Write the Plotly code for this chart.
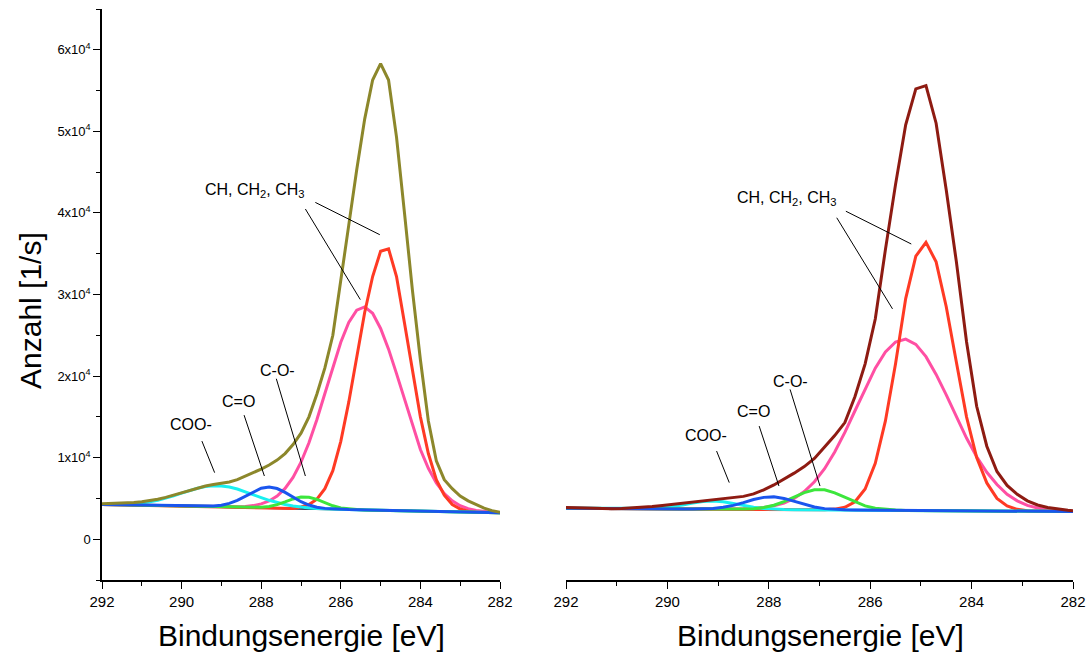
import plotly.graph_objects as go

# ---------------- data ----------------
# Left panel: energy grid (eV) and counts (1/s)
E_LEFT = [292.0, 291.8, 291.6, 291.4, 291.2, 291.0, 290.8, 290.6, 290.4, 290.2,
          290.0, 289.8, 289.6, 289.4, 289.2, 289.0, 288.8, 288.6, 288.4, 288.2,
          288.0, 287.8, 287.6, 287.4, 287.2, 287.0, 286.8, 286.6, 286.4, 286.2,
          286.0, 285.8, 285.6, 285.4, 285.2, 285.0, 284.8, 284.6, 284.4, 284.2,
          284.0, 283.8, 283.6, 283.4, 283.2, 283.0, 282.8, 282.6, 282.4, 282.2, 282.0]

ENVELOPE_LEFT = [4350, 4370, 4400, 4440, 4500, 4590, 4720, 4900, 5130, 5400,
                 5700, 6000, 6280, 6520, 6700, 6850, 7020, 7300, 7700, 8150,
                 8600, 9100, 9700, 10500, 11600, 13000, 15000, 17800, 21000, 25000,
                 31500, 38500, 45300, 51500, 56300, 58300, 56300, 49300, 40000, 30500,
                 22000, 14500, 9600, 7300, 6200, 5300, 4700, 4200, 3800, 3500, 3300]

CH_MAIN_LEFT = [4250, 4230, 4210, 4190, 4170, 4150, 4130, 4110, 4090, 4070,
                4050, 4030, 4010, 3990, 3970, 3950, 3930, 3910, 3890, 3870,
                3850, 3830, 3810, 3790, 3775, 3950, 4250, 4900, 6200, 8400,
                12000, 16800, 22500, 27800, 32200, 35300, 35600, 32200, 26500, 20500,
                15000, 10500, 7300, 5400, 4250, 3700, 3430, 3320, 3290, 3270, 3250]

CH_BROAD_LEFT = [4250, 4230, 4210, 4190, 4170, 4150, 4130, 4110, 4090, 4070,
                 4050, 4030, 4010, 3990, 3975, 3965, 3960, 3970, 4020, 4120,
                 4330, 4690, 5290, 6230, 7580, 9440, 11820, 14680, 17870, 21130,
                 24140, 26560, 28080, 28480, 27700, 25840, 23300, 20300, 17100, 13900,
                 11000, 8700, 6900, 5600, 4700, 4100, 3750, 3520, 3390, 3310, 3260]

CO_LEFT = [4250, 4230, 4210, 4190, 4170, 4150, 4130, 4110, 4090, 4070,
           4050, 4030, 4010, 3990, 3970, 3950, 3930, 3910, 3890, 3880,
           3920, 4020, 4240, 4570, 4940, 5170, 5150, 4880, 4470, 4100,
           3840, 3700, 3630, 3590, 3570, 3550, 3530, 3510, 3490, 3470,
           3450, 3430, 3410, 3390, 3370, 3350, 3330, 3310, 3290, 3270, 3250]

C_DOUBLE_O_LEFT = [4250, 4230, 4210, 4190, 4170, 4150, 4130, 4110, 4090, 4070,
                   4050, 4030, 4020, 4020, 4060, 4170, 4390, 4760, 5270, 5820,
                   6250, 6400, 6210, 5740, 5150, 4600, 4190, 3930, 3780, 3700,
                   3660, 3630, 3610, 3590, 3570, 3550, 3530, 3510, 3490, 3470,
                   3450, 3430, 3410, 3390, 3370, 3350, 3330, 3310, 3290, 3270, 3250]

COO_LEFT = [4260, 4245, 4250, 4280, 4330, 4430, 4580, 4780, 5030, 5320,
            5650, 5970, 6250, 6450, 6550, 6530, 6390, 6150, 5830, 5470,
            5100, 4770, 4480, 4250, 4070, 3930, 3840, 3770, 3720, 3690,
            3660, 3630, 3610, 3590, 3570, 3550, 3530, 3510, 3490, 3470,
            3450, 3430, 3410, 3390, 3370, 3350, 3330, 3310, 3290, 3270, 3250]

BASE_LEFT_E = [292.0, 282.0]
BASE_LEFT = [4250, 3250]

# Right panel
E_RIGHT = [292.0, 291.9, 291.7, 291.5, 291.3, 291.1, 290.9, 290.7, 290.5, 290.3,
           290.1, 289.9, 289.7, 289.5, 289.3, 289.1, 288.9, 288.7, 288.5, 288.3,
           288.1, 287.9, 287.7, 287.5, 287.3, 287.1, 286.9, 286.7, 286.5, 286.3,
           286.1, 285.9, 285.7, 285.5, 285.3, 285.1, 284.9, 284.7, 284.5, 284.3,
           284.1, 283.9, 283.7, 283.5, 283.3, 283.1, 282.9, 282.7, 282.5, 282.3,
           282.1, 282.0]

ENVELOPE_RIGHT = [3900, 3880, 3850, 3800, 3740, 3720, 3760, 3820, 3900, 4000,
                  4120, 4250, 4400, 4550, 4680, 4800, 4900, 5050, 5250, 5550,
                  6050, 6650, 7350, 8100, 8900, 9900, 11300, 12700, 14300, 17500,
                  21500, 27000, 35500, 43500, 50800, 55200, 55600, 51000, 42800, 34000,
                  24200, 16300, 11400, 8300, 6600, 5500, 4700, 4200, 3900, 3700,
                  3550, 3500]

CH_MAIN_RIGHT = [3800, 3800, 3790, 3780, 3770, 3760, 3760, 3750, 3740, 3730,
                 3720, 3720, 3710, 3700, 3690, 3680, 3680, 3670, 3660, 3650,
                 3640, 3640, 3630, 3620, 3610, 3600, 3620, 3690, 3920, 4590,
                 6160, 9300, 14500, 21500, 29500, 34700, 36400, 34000, 28500, 21700,
                 15000, 10000, 6900, 5000, 4070, 3660, 3500, 3450, 3420, 3410,
                 3400, 3400]

CH_BROAD_RIGHT = [3800, 3800, 3790, 3780, 3770, 3760, 3760, 3750, 3740, 3730,
                  3720, 3720, 3710, 3700, 3690, 3690, 3690, 3700, 3720, 3780,
                  3890, 4100, 4440, 5000, 5840, 7050, 8650, 10690, 13090, 15750,
                  18470, 20970, 22950, 24180, 24530, 23890, 22380, 20200, 17700, 15000,
                  12400, 10100, 8200, 6700, 5500, 4700, 4150, 3820, 3620, 3520,
                  3460, 3440]

CO_RIGHT = [3800, 3800, 3790, 3780, 3770, 3760, 3760, 3750, 3740, 3730,
            3720, 3720, 3710, 3700, 3690, 3680, 3680, 3670, 3690, 3750,
            3890, 4160, 4600, 5170, 5710, 6060, 6050, 5690, 5130, 4550,
            4090, 3800, 3650, 3570, 3530, 3520, 3520, 3510, 3500, 3490,
            3480, 3480, 3470, 3460, 3450, 3440, 3440, 3430, 3420, 3410,
            3400, 3400]

C_DOUBLE_O_RIGHT = [3800, 3800, 3790, 3780, 3770, 3760, 3760, 3750, 3740, 3730,
                    3720, 3720, 3710, 3700, 3730, 3780, 3910, 4150, 4490, 4860,
                    5130, 5190, 5000, 4640, 4260, 3950, 3750, 3650, 3600, 3570,
                    3560, 3560, 3550, 3540, 3530, 3520, 3520, 3510, 3500, 3490,
                    3480, 3480, 3470, 3460, 3450, 3440, 3440, 3430, 3420, 3410,
                    3400, 3400]

COO_RIGHT = [3800, 3800, 3790, 3780, 3770, 3760, 3760, 3750, 3740, 3790,
             3860, 3990, 4200, 4430, 4620, 4680, 4600, 4390, 4150, 3930,
             3780, 3690, 3650, 3620, 3610, 3600, 3600, 3590, 3580, 3570,
             3560, 3560, 3550, 3540, 3530, 3520, 3520, 3510, 3500, 3490,
             3480, 3480, 3470, 3460, 3450, 3440, 3440, 3430, 3420, 3410,
             3400, 3400]

BASE_RIGHT_E = [292.0, 282.0]
BASE_RIGHT = [3800, 3400]

X_TICKS = [292, 290, 288, 286, 284, 282]
X_MINOR = [291, 289, 287, 285, 283]
Y_TICKS = [0, 10000, 20000, 30000, 40000, 50000, 60000]
Y_TICK_TEXT = ["0", "1x10<sup>4</sup>", "2x10<sup>4</sup>", "3x10<sup>4</sup>",
               "4x10<sup>4</sup>", "5x10<sup>4</sup>", "6x10<sup>4</sup>"]
Y_MINOR = [-5000, 5000, 15000, 25000, 35000, 45000, 55000, 65000]

for arr in [ENVELOPE_LEFT, CH_MAIN_LEFT, CH_BROAD_LEFT, CO_LEFT, C_DOUBLE_O_LEFT, COO_LEFT]:
    assert len(arr) == len(E_LEFT), len(arr)
for arr in [ENVELOPE_RIGHT, CH_MAIN_RIGHT, CH_BROAD_RIGHT, CO_RIGHT, C_DOUBLE_O_RIGHT, COO_RIGHT]:
    assert len(arr) == len(E_RIGHT), len(arr)

# ---------------- styling ----------------
FONT = "Liberation Sans, Arial, Helvetica, sans-serif"
C_OLIVE = "#8C872B"
C_BROWN = "#8E1B12"
C_RED = "#FF3A24"
C_PINK = "#FF4FA3"
C_BLUE = "#1A55EE"
C_GREEN = "#3CE63C"
C_CYAN = "#19F0F0"
C_BASE = "#101030"

W, H = 1092, 655

fig = go.Figure()


def add_line(x, y, color, width, xa, ya):
    fig.add_trace(go.Scatter(x=x, y=y, mode="lines",
                             line=dict(color=color, width=width),
                             xaxis=xa, yaxis=ya, hoverinfo="skip", showlegend=False))


panels = [
    ("x", "y", E_LEFT, BASE_LEFT_E, BASE_LEFT, CH_BROAD_LEFT, CH_MAIN_LEFT, COO_LEFT,
     CO_LEFT, C_DOUBLE_O_LEFT, ENVELOPE_LEFT, C_OLIVE),
    ("x2", "y2", E_RIGHT, BASE_RIGHT_E, BASE_RIGHT, CH_BROAD_RIGHT, CH_MAIN_RIGHT, COO_RIGHT,
     CO_RIGHT, C_DOUBLE_O_RIGHT, ENVELOPE_RIGHT, C_BROWN),
]
for xa, ya, e, be, bv, broad, main, coo, co, cdo, env, ecol in panels:
    add_line(be, bv, C_BASE, 2, xa, ya)
    add_line(e, broad, C_PINK, 3, xa, ya)
    add_line(e, main, C_RED, 3, xa, ya)
    add_line(e, coo, C_CYAN, 3, xa, ya)
    add_line(e, co, C_GREEN, 3, xa, ya)
    add_line(e, cdo, C_BLUE, 3, xa, ya)
    add_line(e, env, ecol, 3, xa, ya)

y_dom = [1 - 580 / H, 1 - 9 / H]
x_common = dict(range=[292, 282], tickmode="array", tickvals=X_TICKS,
                ticks="outside", ticklen=7, tickwidth=1.3, tickcolor="black",
                showline=True, linecolor="black", linewidth=1.5,
                showgrid=False, zeroline=False, automargin=False,
                tickfont=dict(family=FONT, size=15, color="black"),
                minor=dict(tickvals=X_MINOR, ticks="outside", ticklen=4,
                           tickwidth=1.3, tickcolor="black", showgrid=False))

fig.update_layout(
    width=W, height=H, autosize=False,
    margin=dict(l=0, r=0, t=0, b=0, pad=0, autoexpand=False),
    paper_bgcolor="white", plot_bgcolor="white",
    showlegend=False,
    font=dict(family=FONT, color="black"),
    xaxis=dict(domain=[102 / W, 500 / W], anchor="y", **x_common),
    xaxis2=dict(domain=[566 / W, 1073 / W], anchor="y2", **x_common),
    yaxis=dict(domain=y_dom, anchor="x", range=[-5000, 65000],
               tickmode="array", tickvals=Y_TICKS, ticktext=Y_TICK_TEXT,
               ticks="outside", ticklen=7, tickwidth=1.3, tickcolor="black",
               showline=True, linecolor="black", linewidth=1.5,
               showgrid=False, zeroline=False, automargin=False,
               tickfont=dict(family=FONT, size=13, color="black"),
               minor=dict(tickvals=Y_MINOR, ticks="outside", ticklen=4,
                          tickwidth=1.3, tickcolor="black", showgrid=False)),
    yaxis2=dict(domain=y_dom, anchor="x2", range=[-5000, 65000], visible=False,
                automargin=False),
)

# axis titles
annotations = [
    dict(text="Bindungsenergie [eV]", x=301 / W, y=1 - 635 / H, xref="paper", yref="paper",
         showarrow=False, font=dict(family=FONT, size=30, color="black"),
         xanchor="center", yanchor="middle"),
    dict(text="Bindungsenergie [eV]", x=820 / W, y=1 - 635 / H, xref="paper", yref="paper",
         showarrow=False, font=dict(family=FONT, size=30, color="black"),
         xanchor="center", yanchor="middle"),
    dict(text="Anzahl [1/s]", x=30 / W, y=1 - 311 / H, xref="paper", yref="paper",
         showarrow=False, textangle=-90, font=dict(family=FONT, size=30, color="black"),
         xanchor="center", yanchor="middle"),
]

label_font = dict(family=FONT, size=16, color="black")
# (text, x, y, xref, yref)
labels = [
    ("CH, CH<sub>2</sub>, CH<sub>3</sub>", 288.15, 42800, "x", "y"),
    ("C-O-", 287.60, 20700, "x", "y"),
    ("C=O", 288.57, 16900, "x", "y"),
    ("COO-", 289.76, 14100, "x", "y"),
    ("CH, CH<sub>2</sub>, CH<sub>3</sub>", 287.65, 41800, "x2", "y2"),
    ("C-O-", 287.58, 19300, "x2", "y2"),
    ("C=O", 288.31, 15700, "x2", "y2"),
    ("COO-", 289.24, 12700, "x2", "y2"),
]
for t, x, y, xr, yr in labels:
    annotations.append(dict(text=t, x=x, y=y, xref=xr, yref=yr, showarrow=False,
                            font=label_font, xanchor="center", yanchor="middle"))
fig.update_layout(annotations=annotations)

# leader lines (x0, y0, x1, y1, xref, yref)
leaders = [
    (286.64, 41290, 285.02, 37330, "x", "y"),
    (286.89, 40480, 285.51, 29380, "x", "y"),
    (287.62, 19670, 286.89, 7750, "x", "y"),
    (288.43, 15210, 287.92, 7750, "x", "y"),
    (289.49, 12030, 289.17, 8160, "x", "y"),
    (286.48, 40210, 285.19, 36190, "x2", "y2"),
    (286.66, 39410, 285.56, 28240, "x2", "y2"),
    (287.58, 18360, 286.99, 6520, "x2", "y2"),
    (288.19, 13870, 287.80, 6520, "x2", "y2"),
    (289.03, 10810, 288.78, 6940, "x2", "y2"),
]
for x0, y0, x1, y1, xr, yr in leaders:
    fig.add_shape(type="line", x0=x0, y0=y0, x1=x1, y1=y1, xref=xr, yref=yr,
                  line=dict(color="black", width=1))

fig.write_html("out.html")
